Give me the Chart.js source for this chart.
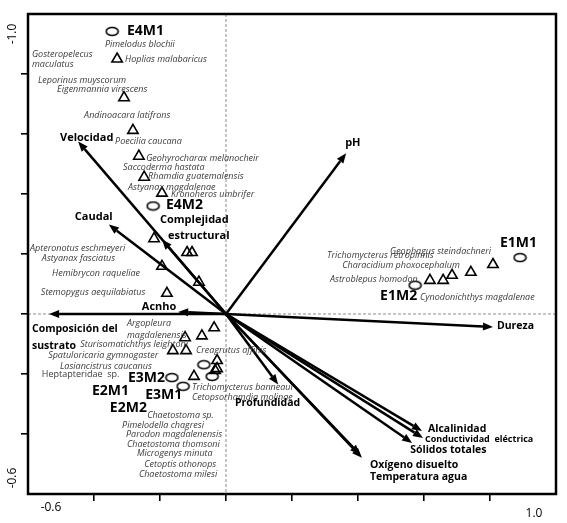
<!DOCTYPE html>
<html>
<head>
<meta charset="utf-8">
<script src="https://cdn.jsdelivr.net/npm/chart.js@4"></script>
<style>
  body { margin: 0; background: #fff; }
  #wrap { width: 567px; height: 523px; }
</style>
</head>
<body>
<div id="wrap"><canvas id="myChart" width="567" height="523"></canvas></div>
<script>
// Species (triangles)
const speciesX = [-0.330, -0.309, -0.282, -0.264, -0.248, -0.194, -0.218, -0.118, -0.103, -0.194, -0.082, -0.179,
                  -0.036, -0.073, -0.124, -0.161, -0.121, -0.027, -0.027, -0.033, -0.097,
                  0.809, 0.742, 0.685, 0.658, 0.618];
const speciesY = [0.850, 0.721, 0.612, 0.526, 0.456, 0.403, 0.251, 0.205, 0.205, 0.159, 0.106, 0.069,
                  -0.046, -0.073, -0.079, -0.122, -0.122, -0.155, -0.182, -0.188, -0.208,
                  0.165, 0.139, 0.129, 0.112, 0.112];

// Sites (ellipses)
const siteNames = ['E4M1', 'E4M2', 'E1M1', 'E1M2', 'E3M2', 'E3M1', 'E2M1', 'E2M2'];
const siteX = [-0.345, -0.221, 0.891, 0.573, -0.164, -0.130, -0.067, -0.042];
const siteY = [0.942, 0.360, 0.188, 0.096, -0.212, -0.241, -0.169, -0.208];
const siteLabelX = [-0.300, -0.182, 0.830, 0.467, -0.297, -0.245, -0.406, -0.352];
const siteLabelY = [0.942, 0.364, 0.238, 0.060, -0.212, -0.271, -0.258, -0.314];

// Environmental vectors (arrow tips)
const varNames = ['Velocidad', 'Complejidad estructural', 'Caudal', 'Acnho', 'Composición del sustrato', 'pH',
                  'Dureza', 'Alcalinidad', 'Conductividad eléctrica', 'Sólidos totales', 'Oxígeno disuelto',
                  'Temperatura agua', 'Profundidad'];
const varX = [-0.448, -0.194, -0.355, -0.145, -0.536, 0.364, 0.809, 0.594, 0.597, 0.564, 0.412, 0.406, 0.158];
const varY = [0.575, 0.248, 0.298, 0.007, 0.000, 0.536, -0.043, -0.390, -0.413, -0.430, -0.479, -0.469, -0.235];

// Variable labels: text, x, y, font size
const varLabels = [
    ['Velocidad', -0.503, 0.588, 11],
    ['Caudal', -0.458, 0.324, 11],
    ['Complejidad', -0.200, 0.314, 11],
    ['estructural', -0.176, 0.261, 11],
    ['Acnho', -0.255, 0.023, 11],
    ['Composición del', -0.588, -0.050, 10.5],
    ['sustrato', -0.588, -0.106, 10.5],
    ['pH', 0.361, 0.572, 11],
    ['Dureza', 0.821, -0.040, 10.5],
    ['Alcalinidad', 0.612, -0.383, 10.5],
    ['Conductividad  eléctrica', 0.603, -0.417, 9],
    ['Sólidos totales', 0.558, -0.453, 10.5],
    ['Oxígeno disuelto', 0.436, -0.502, 10.5],
    ['Temperatura agua', 0.436, -0.545, 10.5],
    ['Profundidad', 0.027, -0.298, 10.5]
];

// Species labels: text, x, y
const speciesLabels = [
    ['Pimelodus blochii', -0.367, 0.899],
    ['Gosteropelecus', -0.588, 0.866],
    ['maculatus', -0.588, 0.833],
    ['Hoplias malabaricus', -0.306, 0.850],
    ['Leporinus muyscorum', -0.570, 0.780],
    ['Eigenmannia virescens', -0.512, 0.750],
    ['Andinoacara latifrons', -0.430, 0.661],
    ['Poecilia caucana', -0.336, 0.575],
    ['Geohyrocharax melanocheir', -0.242, 0.519],
    ['Saccoderma hastata', -0.312, 0.489],
    ['Rhamdia guatemalensis', -0.236, 0.460],
    ['Astyanax magdalenae', -0.297, 0.423],
    ['Kronoheros umbrifer', -0.167, 0.400],
    ['Apteronotus eschmeyeri', -0.594, 0.218],
    ['Astyanax fasciatus', -0.558, 0.185],
    ['Hemibrycon raqueliae', -0.527, 0.136],
    ['Stemopygus aequilabiatus', -0.561, 0.073],
    ['Argopleura', -0.300, -0.030],
    ['magdalenensis', -0.300, -0.073],
    ['Sturisomatichthys leightoni', -0.442, -0.102],
    ['Creagrutus affinis', -0.091, -0.122],
    ['Spatuloricaria gymnogaster', -0.539, -0.139],
    ['Lasiancistrus caucanus', -0.503, -0.175],
    ['Heptapteridae  sp.', -0.558, -0.202],
    ['Trichomycterus banneaui', -0.103, -0.245],
    ['Cetopsorhamdia molinae', -0.103, -0.278],
    ['Chaetostoma sp.', -0.239, -0.337],
    ['Pimelodella chagresi', -0.315, -0.370],
    ['Parodon magdalenensis', -0.303, -0.403],
    ['Chaetostoma thomsoni', -0.300, -0.436],
    ['Microgenys minuta', -0.270, -0.466],
    ['Cetoptis othonops', -0.248, -0.502],
    ['Chaetostoma milesi', -0.264, -0.536],
    ['Geophagus steindachneri', 0.497, 0.208],
    ['Trichomycterus retropinnis', 0.306, 0.195],
    ['Characidium phoxocephalum', 0.352, 0.162],
    ['Astroblepus homodon', 0.315, 0.116],
    ['Cynodonichthys magdalenae', 0.588, 0.056]
];

const FONT = '"Open Sans", "Liberation Sans", sans-serif';

// ellipse marker for the sites
const ellipse = document.createElement('canvas');
ellipse.width = 15;
ellipse.height = 11;
const ec = ellipse.getContext('2d');
ec.beginPath();
ec.ellipse(7.5, 5.5, 6, 4, 0, 0, Math.PI * 2);
ec.fillStyle = '#fff';
ec.fill();
ec.lineWidth = 1.6;
ec.strokeStyle = '#000';
ec.stroke();

const biplot = {
    id: 'biplot',
    beforeDatasetsDraw(chart) {
        const { ctx, chartArea: a, scales: { x, y } } = chart;
        const x0 = x.getPixelForValue(0);
        const y0 = y.getPixelForValue(0);
        ctx.save();
        // dashed zero lines
        ctx.strokeStyle = '#8a8a8a';
        ctx.lineWidth = 1;
        ctx.setLineDash([3, 2]);
        ctx.beginPath();
        ctx.moveTo(x0, a.top);
        ctx.lineTo(x0, a.bottom);
        ctx.moveTo(a.left, y0);
        ctx.lineTo(a.right, y0);
        ctx.stroke();
        ctx.setLineDash([]);

        // arrows
        ctx.strokeStyle = '#000';
        ctx.fillStyle = '#000';
        ctx.lineWidth = 2.5;
        for (let i = 0; i < varX.length; i++) {
            const px = x.getPixelForValue(varX[i]);
            const py = y.getPixelForValue(varY[i]);
            const ang = Math.atan2(py - y0, px - x0);
            const hl = 10, hw = 4;
            const bx = px - hl * Math.cos(ang);
            const by = py - hl * Math.sin(ang);
            ctx.beginPath();
            ctx.moveTo(x0, y0);
            ctx.lineTo(bx, by);
            ctx.stroke();
            ctx.beginPath();
            ctx.moveTo(px, py);
            ctx.lineTo(bx + hw * Math.sin(ang), by - hw * Math.cos(ang));
            ctx.lineTo(bx - hw * Math.sin(ang), by + hw * Math.cos(ang));
            ctx.closePath();
            ctx.fill();
        }
        ctx.restore();
    },
    afterDraw(chart) {
        const { ctx, chartArea: a, scales: { x, y } } = chart;
        ctx.save();
        // frame
        ctx.strokeStyle = '#000';
        ctx.lineWidth = 2.5;
        ctx.strokeRect(a.left, a.top, a.right - a.left, a.bottom - a.top);

        ctx.textAlign = 'left';
        ctx.textBaseline = 'middle';
        // species labels
        ctx.fillStyle = '#3a3a3a';
        for (const [t, lx, ly] of speciesLabels) {
            ctx.font = (t.startsWith('Heptapteridae') ? '' : 'italic ') + '9px ' + FONT;
            ctx.fillText(t, x.getPixelForValue(lx), y.getPixelForValue(ly));
        }
        // variable labels
        ctx.fillStyle = '#000';
        for (const [t, lx, ly, fs] of varLabels) {
            ctx.font = 'bold ' + fs + 'px ' + FONT;
            ctx.fillText(t, x.getPixelForValue(lx), y.getPixelForValue(ly));
        }
        // site labels
        ctx.font = 'bold 14px ' + FONT;
        for (let i = 0; i < siteNames.length; i++) {
            ctx.fillText(siteNames[i], x.getPixelForValue(siteLabelX[i]), y.getPixelForValue(siteLabelY[i]));
        }

        // axis end labels
        ctx.font = '12px ' + FONT;
        ctx.textAlign = 'center';
        ctx.fillText('-0.6', a.left + 23, a.bottom + 14);
        ctx.fillText('1.0', a.right - 22, a.bottom + 20);
        ctx.translate(a.left - 15, a.top + 20);
        ctx.rotate(-Math.PI / 2);
        ctx.fillText('-1.0', 0, 0);
        ctx.rotate(Math.PI / 2);
        ctx.translate(0, 444);
        ctx.rotate(-Math.PI / 2);
        ctx.fillText('-0.6', 0, 0);
        ctx.restore();
    }
};

const edgeTick = (c) => (Math.abs(c.tick.value + 0.6) < 1e-6 || Math.abs(c.tick.value - 1.0) < 1e-6) ? 'rgba(0,0,0,0)' : '#000';

const ctx = document.getElementById('myChart').getContext('2d');
const myChart = new Chart(ctx, {
    type: 'scatter',
    data: {
        datasets: [{
            label: 'Especies',
            data: speciesX.map((v, i) => ({ x: v, y: speciesY[i] })),
            pointStyle: 'triangle',
            pointRadius: 6,
            borderColor: '#000',
            backgroundColor: 'rgba(255,255,255,0)',
            borderWidth: 1.6
        }, {
            label: 'Sitios',
            data: siteX.map((v, i) => ({ x: v, y: siteY[i] })),
            pointStyle: ellipse,
            pointRadius: 6
        }]
    },
    options: {
        responsive: false,
        animation: false,
        layout: { padding: { top: 14, right: 11, left: 0, bottom: 0 } },
        plugins: { legend: { display: false }, tooltip: { enabled: false } },
        scales: {
            x: {
                min: -0.6, max: 1.0,
                ticks: { stepSize: 0.2, display: false },
                grid: { drawOnChartArea: false, drawTicks: true, tickLength: 7, lineWidth: 1.6, color: edgeTick },
                border: { display: false },
                afterFit: (s) => { s.height = 29; }
            },
            y: {
                min: -0.6, max: 1.0,
                ticks: { stepSize: 0.2, display: false },
                grid: { drawOnChartArea: false, drawTicks: true, tickLength: 7, lineWidth: 1.6, color: edgeTick },
                border: { display: false },
                afterFit: (s) => { s.width = 28; }
            }
        }
    },
    plugins: [biplot]
});
</script>
</body>
</html>
